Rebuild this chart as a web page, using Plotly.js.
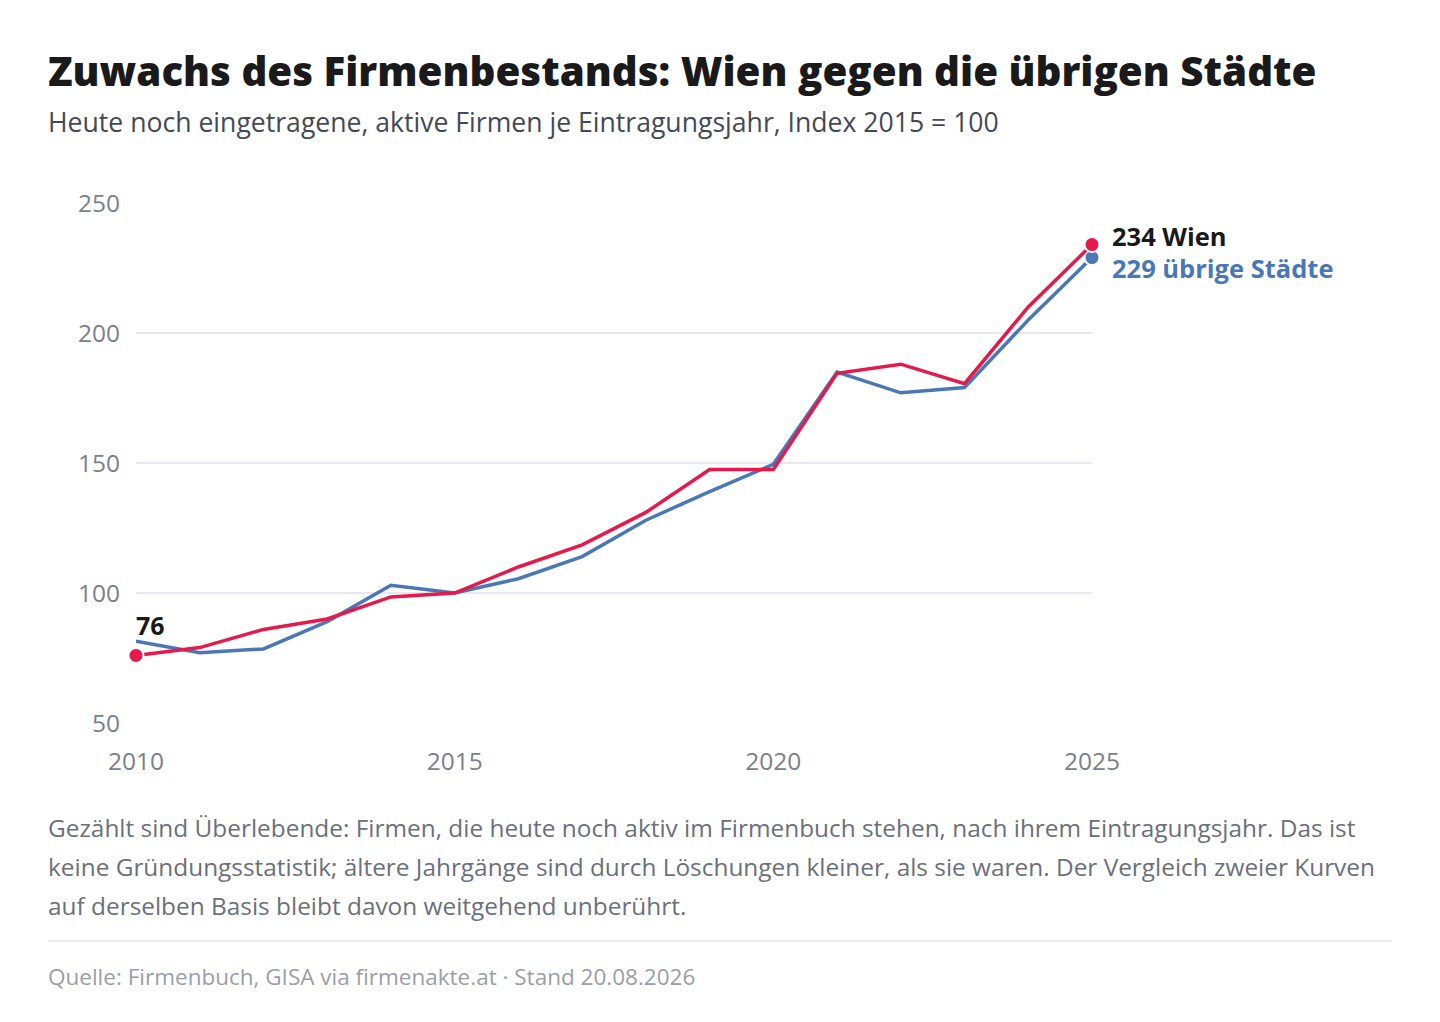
<!DOCTYPE html>
<html>
<head>
<meta charset="utf-8">
<script src="https://cdn.plot.ly/plotly-3.0.1.min.js"></script>
<style>
  html, body { margin: 0; padding: 0; background: #fff; }
  #chart { width: 1440px; height: 1022px; }
</style>
</head>
<body>
<div id="chart"></div>
<script>
// Index 2015 = 100, je Eintragungsjahr
var years = [2010, 2011, 2012, 2013, 2014, 2015, 2016, 2017, 2018, 2019, 2020, 2021, 2022, 2023, 2024, 2025];
var wien = [76, 79, 86, 90, 98.5, 100, 110, 118.5, 131, 147.5, 147.5, 184.5, 188, 180.5, 210, 234];
var uebrige = [81.5, 77, 78.5, 89, 103, 100, 105.5, 114, 128, 139, 149.5, 185, 177, 179, 205, 229];
var yTicks = [50, 100, 150, 200, 250];
var xTicks = [2010, 2015, 2020, 2025];

var RED = '#e5194b';
var BLUE = '#4a78b5';
var FONT = 'Open Sans, Noto Sans, sans-serif';

var lastIdx = years.length - 1;

var traces = [
  {
    x: years, y: uebrige, name: 'übrige Städte', type: 'scatter', mode: 'lines',
    line: { color: BLUE, width: 3.5 }, cliponaxis: false
  },
  {
    x: [years[lastIdx]], y: [uebrige[lastIdx]], type: 'scatter', mode: 'markers',
    marker: { color: BLUE, size: 15, line: { color: '#fff', width: 2 } }, cliponaxis: false
  },
  {
    x: years, y: wien, name: 'Wien', type: 'scatter', mode: 'lines',
    line: { color: RED, width: 3.5 }, cliponaxis: false
  },
  {
    x: [years[0], years[lastIdx]], y: [wien[0], wien[lastIdx]], type: 'scatter', mode: 'markers',
    marker: { color: RED, size: 15, line: { color: '#fff', width: 2 } }, cliponaxis: false
  }
];

// pixel helpers for paper-positioned text (plot area: x 136..1092, y 203..723)
function px(x) { return (x - 136) / 956; }
function py(y) { return (723 - y) / 520; }

var footLines = [
  'Gezählt sind Überlebende: Firmen, die heute noch aktiv im Firmenbuch stehen, nach ihrem Eintragungsjahr. Das ist',
  'keine Gründungsstatistik; ältere Jahrgänge sind durch Löschungen kleiner, als sie waren. Der Vergleich zweier Kurven',
  'auf derselben Basis bleibt davon weitgehend unberührt.'
];

var annotations = [
  {
    xref: 'paper', yref: 'paper', x: px(46), y: py(70), xanchor: 'left', yanchor: 'middle',
    text: 'Zuwachs des Firmenbestands: Wien gegen die übrigen Städte', showarrow: false,
    font: { family: FONT, size: 40.3, color: '#1a1a1a', weight: 800 }
  },
  {
    xref: 'paper', yref: 'paper', x: px(46), y: py(122), xanchor: 'left', yanchor: 'middle',
    text: 'Heute noch eingetragene, aktive Firmen je Eintragungsjahr, Index 2015 = 100', showarrow: false,
    font: { family: FONT, size: 26.6, color: '#444a55' }
  },
  {
    x: years[lastIdx], y: wien[lastIdx], xanchor: 'left', yanchor: 'middle', xshift: 18, yshift: 9,
    text: '<b>' + wien[lastIdx] + ' Wien</b>', showarrow: false,
    font: { family: FONT, size: 25.5, color: '#1a1a1a' }
  },
  {
    x: years[lastIdx], y: uebrige[lastIdx], xanchor: 'left', yanchor: 'middle', xshift: 18, yshift: -10,
    text: '<b>' + uebrige[lastIdx] + ' übrige Städte</b>', showarrow: false,
    font: { family: FONT, size: 25.5, color: BLUE }
  },
  {
    x: years[0], y: wien[0], xanchor: 'left', yanchor: 'middle', xshift: -2, yshift: 30,
    text: '<b>' + wien[0] + '</b>', showarrow: false,
    font: { family: FONT, size: 25, color: '#1a1a1a' }
  },
  {
    xref: 'paper', yref: 'paper', x: px(46), y: py(976), xanchor: 'left', yanchor: 'middle',
    text: 'Quelle: Firmenbuch, GISA via firmenakte.at · Stand 20.08.2026', showarrow: false,
    font: { family: FONT, size: 22.5, color: '#9a9ea6' }
  }
];

footLines.forEach(function (t, i) {
  annotations.push({
    xref: 'paper', yref: 'paper', x: px(46), y: py(827 + i * 39), xanchor: 'left', yanchor: 'middle',
    text: t, showarrow: false,
    font: { family: FONT, size: 24.4, color: '#6b707a' }
  });
});

var layout = {
  width: 1440, height: 1022,
  margin: { l: 136, r: 348, t: 203, b: 299, pad: 0 },
  paper_bgcolor: '#fff', plot_bgcolor: '#fff',
  showlegend: false,
  font: { family: FONT },
  xaxis: {
    range: [2010, 2025], tickvals: xTicks, ticktext: xTicks.map(String),
    showgrid: false, zeroline: false, showline: false, ticks: '',
    tickfont: { family: FONT, size: 24.5, color: '#7a7f8a' }, ticklabelstandoff: 21
  },
  yaxis: {
    range: [50, 250], tickvals: yTicks, ticktext: yTicks.map(String),
    showgrid: true, gridcolor: '#e8e8ee', gridwidth: 1.5, zeroline: false, showline: false, ticks: '',
    tickfont: { family: FONT, size: 24.5, color: '#7a7f8a' }, ticklabelstandoff: 15
  },
  annotations: annotations,
  shapes: [
    {
      type: 'line', xref: 'paper', yref: 'paper',
      x0: px(48), x1: px(1392), y0: py(941), y1: py(941),
      line: { color: '#e6e6ea', width: 1.5 }
    }
  ]
};

Plotly.newPlot('chart', traces, layout, { staticPlot: true });
</script>
</body>
</html>
